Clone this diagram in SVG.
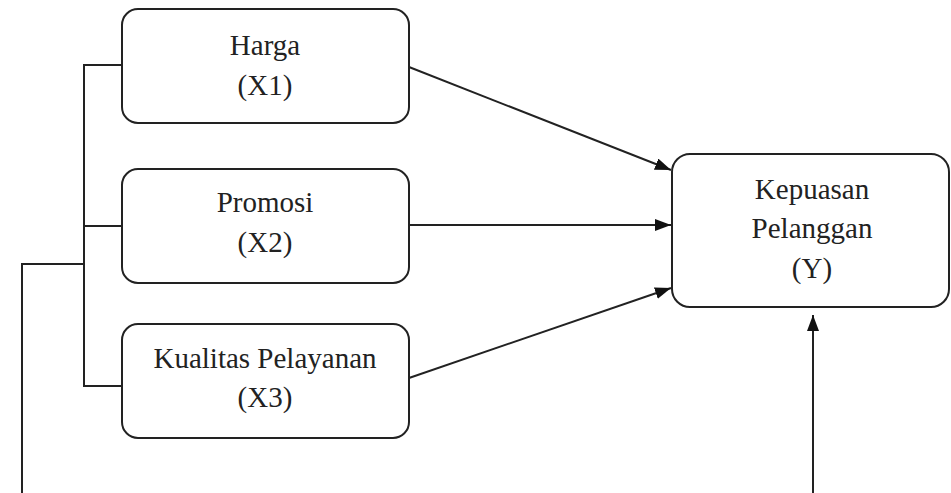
<svg xmlns="http://www.w3.org/2000/svg" width="951" height="493" viewBox="0 0 951 493">
<style>
.box{fill:#fff;stroke:#222;stroke-width:2}
.t{font-family:"Liberation Serif","Times New Roman",serif;font-size:29px;fill:#222;text-anchor:middle}
.c{fill:none;stroke:#222;stroke-width:2}
</style>
<defs>
<marker id="ah" viewBox="0 0 16 12" refX="16" refY="6" markerWidth="16" markerHeight="12" markerUnits="userSpaceOnUse" orient="auto">
<path d="M0,0 L16,6 L0,12 Z" fill="#111"/>
</marker>
</defs>
<rect width="951" height="493" fill="#fff"/>
<g id="connectors">
<polyline class="c" points="122,65 84,65 84,386 122,386"/>
<line class="c" x1="84" y1="226" x2="122" y2="226"/>
<polyline class="c" points="84,264 22,264 22,493"/>
<line class="c" x1="409" y1="67" x2="671" y2="170" marker-end="url(#ah)"/>
<line class="c" x1="409" y1="225" x2="671" y2="225" marker-end="url(#ah)"/>
<line class="c" x1="409" y1="378" x2="671" y2="288" marker-end="url(#ah)"/>
<line class="c" x1="813" y1="493" x2="813" y2="315" marker-end="url(#ah)"/>
</g>
<g id="harga">
<rect class="box" x="122" y="9" width="287" height="114" rx="16"/>
<text class="t" x="265" y="55">Harga</text>
<text class="t" x="265" y="95">(X1)</text>
</g>
<g id="promosi">
<rect class="box" x="122" y="169" width="287" height="114" rx="16"/>
<text class="t" x="265" y="212">Promosi</text>
<text class="t" x="265" y="252">(X2)</text>
</g>
<g id="kualitas">
<rect class="box" x="122" y="324" width="287" height="114" rx="16"/>
<text class="t" x="265" y="368">Kualitas Pelayanan</text>
<text class="t" x="265" y="407">(X3)</text>
</g>
<g id="kepuasan">
<rect class="box" x="672" y="154" width="277" height="153" rx="18"/>
<text class="t" x="812" y="199">Kepuasan</text>
<text class="t" x="812" y="238">Pelanggan</text>
<text class="t" x="812" y="278">(Y)</text>
</g>
</svg>
